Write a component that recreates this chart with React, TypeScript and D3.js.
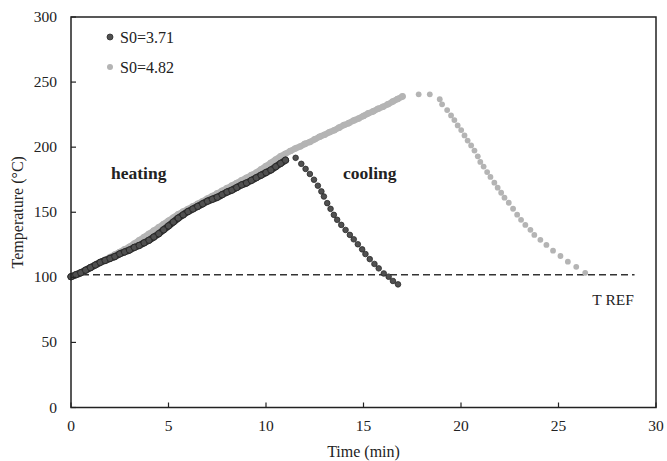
import React from "react";
import * as d3 from "d3";

const xTicks = [0, 5, 10, 15, 20, 25, 30];
const yTicks = [0, 50, 100, 150, 200, 250, 300];

const darkHeatTime = [0, 0.25, 0.5, 0.75, 1, 1.25, 1.5, 1.75, 2, 2.25, 2.5, 2.75, 3, 3.25, 3.5, 3.75, 4, 4.25, 4.5, 4.75, 5, 5.25, 5.5, 5.75, 6, 6.25, 6.5, 6.75, 7, 7.25, 7.5, 7.75, 8, 8.25, 8.5, 8.75, 9, 9.25, 9.5, 9.75, 10, 10.25, 10.5, 10.75, 11];
const darkHeatTemp = [100.5, 102, 103.5, 105.5, 107.5, 109.5, 111.5, 113, 114.5, 116, 118, 119.5, 121, 123, 124.5, 126.5, 128.5, 131, 133.5, 136.5, 139.5, 142.5, 145.5, 148, 150.5, 152.5, 154.5, 156.5, 158.5, 160, 161.5, 163.5, 165.5, 167, 169, 171, 172.5, 174.5, 176.5, 178.5, 180.5, 182.5, 185, 187.5, 190];

const darkCoolTime = [11.52, 11.81, 12.03, 12.25, 12.46, 12.66, 12.84, 12.97, 13.14, 13.31, 13.48, 13.65, 13.86, 14.08, 14.3, 14.5, 14.71, 14.93, 15.1, 15.32, 15.56, 15.78, 16.04, 16.29, 16.51, 16.77];
const darkCoolTemp = [191.8, 187.2, 183.3, 179.4, 175, 170.4, 166, 162.1, 157, 152.6, 148, 144.2, 140.3, 136.4, 132.6, 129.2, 125.4, 121.5, 117.9, 114, 110.3, 106.9, 103, 100.5, 97.2, 94.6];

const grayHeatTime = [0, 0.25, 0.5, 0.75, 1, 1.25, 1.5, 1.75, 2, 2.25, 2.5, 2.75, 3, 3.25, 3.5, 3.75, 4, 4.25, 4.5, 4.75, 5, 5.25, 5.5, 5.75, 6, 6.25, 6.5, 6.75, 7, 7.25, 7.5, 7.75, 8, 8.25, 8.5, 8.75, 9, 9.25, 9.5, 9.75, 10, 10.25, 10.5, 10.75, 11, 11.25, 11.5, 11.75, 12, 12.25, 12.5, 12.75, 13, 13.25, 13.5, 13.75, 14, 14.25, 14.5, 14.75, 15, 15.25, 15.5, 15.75, 16, 16.25, 16.5, 16.75, 17];
const grayHeatTemp = [100.5, 102, 103.5, 105.5, 107.5, 109.5, 111.5, 113.5, 115.5, 117.5, 119.5, 121.5, 123.5, 126, 128.5, 131, 133.5, 136, 138.5, 141, 143.5, 146, 148.5, 150.5, 152.5, 154.5, 156.5, 158.5, 160.5, 162.5, 164.5, 166.5, 168.5, 170.5, 172.5, 174.5, 176.5, 178.5, 180.5, 183, 185.5, 188, 190.5, 193, 195, 197, 199, 200.5, 202.5, 204, 206, 208, 209.5, 211.5, 213, 215, 217, 218.5, 220.5, 222, 224, 226, 227.5, 229.5, 231, 233, 235, 237, 239];

const grayCoolTime = [17.83, 18.4, 18.91, 19.03, 19.29, 19.49, 19.66, 19.83, 20.01, 20.18, 20.34, 20.52, 20.69, 20.86, 20.99, 21.16, 21.34, 21.51, 21.71, 21.88, 22.06, 22.23, 22.45, 22.67, 22.88, 23.08, 23.3, 23.56, 23.76, 24.07, 24.38, 24.72, 25.1, 25.48, 25.91, 26.37];
const grayCoolTemp = [240.6, 240.6, 236.8, 232.9, 228.5, 224.4, 220.8, 216.7, 213.1, 209, 205.1, 201.3, 197.4, 193, 188.7, 185.1, 180.9, 177.1, 172.7, 168.9, 165, 161.2, 157.3, 152.7, 148.1, 144.2, 140.3, 136.5, 132.6, 128.8, 124.9, 120.5, 116.4, 112, 108.1, 103.5];

const refTemp = 102;
const refRange = [0, 28.9];
const legendLabels = ["S0=3.71", "S0=4.82"];

const W = 667;
const H = 461;
const left = 71, right = 656, top = 17, bottom = 407.5;

const FONT = '"Liberation Serif", "Times New Roman", Times, serif';
const DARK_FILL = "#505050";
const DARK_STROKE = "#2b2b2b";
const GRAY_FILL = "#b4b4b4";
const TEXT = "#222";

export default function App() {
  const x = d3.scaleLinear().domain([0, 30]).range([left, right]);
  const y = d3.scaleLinear().domain([0, 300]).range([bottom, top]);

  const zip = (t: number[], v: number[]) => t.map((tt, i) => [tt, v[i]] as [number, number]);
  const darkHeat = zip(darkHeatTime, darkHeatTemp);
  const darkCool = zip(darkCoolTime, darkCoolTemp);
  const grayHeat = zip(grayHeatTime, grayHeatTemp);
  const grayCool = zip(grayCoolTime, grayCoolTemp);

  const line = d3.line<[number, number]>().x((d) => x(d[0])).y((d) => y(d[1])).curve(d3.curveMonotoneX);

  const ts = { fontFamily: FONT } as React.CSSProperties;

  return (
    <svg width={W} height={H} style={{ position: "absolute", left: 0, top: 0, background: "#fff", fontFamily: FONT }}>
      {/* reference line */}
      <line x1={x(refRange[0])} x2={x(refRange[1])} y1={y(refTemp)} y2={y(refTemp)} stroke="#333" strokeWidth={1.5} strokeDasharray="7,4" />
      <text style={ts} x={x(27.8)} y={y(refTemp) + 30} fontSize={15.5} textAnchor="middle" fill={TEXT}>T REF</text>

      {/* gray series */}
      <path d={line(grayHeat) || ""} fill="none" stroke={GRAY_FILL} strokeWidth={6.2} strokeLinecap="round" />
      {grayHeat.map((d, i) => (
        <circle key={"gh" + i} cx={x(d[0])} cy={y(d[1])} r={3.3} fill={GRAY_FILL} />
      ))}
      {grayCool.map((d, i) => (
        <circle key={"gc" + i} cx={x(d[0])} cy={y(d[1])} r={2.9} fill={GRAY_FILL} />
      ))}
      {/* dark series */}
      <path d={line(darkHeat) || ""} fill="none" stroke={DARK_STROKE} strokeWidth={7} strokeLinecap="round" />
      {darkHeat.map((d, i) => (
        <circle key={"dh" + i} cx={x(d[0])} cy={y(d[1])} r={3.2} fill={DARK_FILL} stroke={DARK_STROKE} strokeWidth={1} />
      ))}
      {darkCool.map((d, i) => (
        <circle key={"dc" + i} cx={x(d[0])} cy={y(d[1])} r={2.8} fill={DARK_FILL} stroke={DARK_STROKE} strokeWidth={0.8} />
      ))}

      {/* frame */}
      <rect x={left} y={top} width={right - left} height={bottom - top} fill="none" stroke="#222" strokeWidth={1.5} />

      {/* x ticks */}
      {xTicks.map((t) => (
        <g key={"xt" + t}>
          <line x1={x(t)} x2={x(t)} y1={bottom} y2={bottom - 5} stroke="#222" strokeWidth={1.2} />
          <text style={ts} x={x(t)} y={bottom + 23} fontSize={15.5} textAnchor="middle" fill={TEXT}>{t}</text>
        </g>
      ))}
      {/* y ticks */}
      {yTicks.map((t) => (
        <g key={"yt" + t}>
          <line x1={left} x2={left + 5} y1={y(t)} y2={y(t)} stroke="#222" strokeWidth={1.2} />
          <text style={ts} x={left - 14} y={y(t) + 5} fontSize={15.5} textAnchor="end" fill={TEXT}>{t}</text>
        </g>
      ))}

      {/* axis titles */}
      <text style={ts} x={(left + right) / 2} y={457} fontSize={16} textAnchor="middle" fill={TEXT}>Time (min)</text>
      <text style={ts} transform={`translate(23, ${(top + bottom) / 2}) rotate(-90)`} fontSize={16} textAnchor="middle" fill={TEXT}>Temperature (°C)</text>

      {/* annotations */}
      <text style={ts} x={111} y={179} fontSize={17.5} fontWeight="bold" fill={TEXT}>heating</text>
      <text style={ts} x={343} y={179} fontSize={17.5} fontWeight="bold" fill={TEXT}>cooling</text>

      {/* legend */}
      <circle cx={110} cy={37} r={3} fill={DARK_FILL} stroke={DARK_STROKE} strokeWidth={0.8} />
      <text style={ts} x={120} y={43} fontSize={16} fill={TEXT}>{legendLabels[0]}</text>
      <circle cx={110} cy={67} r={3} fill={GRAY_FILL} />
      <text style={ts} x={120} y={73} fontSize={16} fill={TEXT}>{legendLabels[1]}</text>
    </svg>
  );
}
